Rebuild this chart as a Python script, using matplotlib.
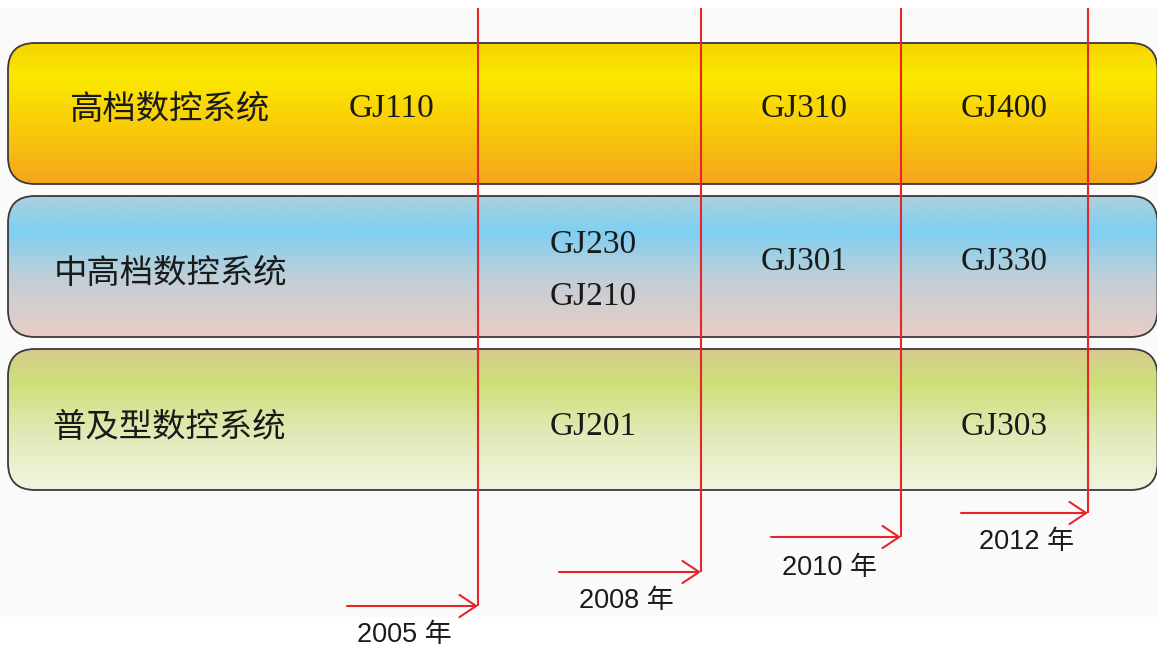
import matplotlib
matplotlib.use("Agg")
import matplotlib.pyplot as plt
import numpy as np
from matplotlib.patches import FancyBboxPatch, Rectangle
from matplotlib.colors import LinearSegmentedColormap

# ---------------- data ----------------
tiers = ['高档数控系统', '中高档数控系统', '普及型数控系统']
years = ['2005 年', '2008 年', '2010 年', '2012 年']
high_products = ['GJ110', '', 'GJ310', 'GJ400']
mid_products = ['', 'GJ230\nGJ210', 'GJ301', 'GJ330']
basic_products = ['', 'GJ201', '', 'GJ303']
products = [high_products, mid_products, basic_products]

# ---------------- layout (pixels) ----------------
W, H = 1157, 647
box_top = [43, 196, 349]
box_h = 141
box_left, box_right = 8, 1157.5
label_x = [69, 54, 52]
label_y = [109, 273, 427]
prod_y = [106, 259, 424]
col_x = [392, 593, 804, 1004]
line_x = [478, 701, 901, 1088]
arrow_y = [606, 572, 537, 513]
arrow_start = [347, 559, 771, 961]
year_xy = [(404, 635), (626, 601), (830, 568), (1027, 542)]

gradients = [
    [(0.0, '#f7d300'), (0.25, '#fbe900'), (0.55, '#f9cf08'), (1.0, '#f5a61c')],
    [(0.0, '#add0de'), (0.25, '#7ed0f1'), (0.6, '#c3cfd6'), (1.0, '#e9cdc4')],
    [(0.0, '#d7ca8c'), (0.25, '#cde07b'), (0.6, '#e1eab7'), (1.0, '#f1f5e2')],
]

red = '#e8262a'
txt = '#1a1a1a'

fig = plt.figure(figsize=(W / 100, H / 100), dpi=100)
ax = fig.add_axes([0, 0, 1, 1])
ax.set_xlim(0, W)
ax.set_ylim(H, 0)
ax.axis('off')

# light background panel
ax.add_patch(Rectangle((0, 8), W, 609, facecolor='#fafafa', edgecolor='none', zorder=0))

for i, tier in enumerate(tiers):
    y0 = box_top[i]
    patch = FancyBboxPatch((box_left, y0), box_right - box_left, box_h,
                           boxstyle='round,pad=0,rounding_size=27',
                           facecolor='none', edgecolor='#3a3a3a', lw=1.3, zorder=3)
    ax.add_patch(patch)
    cmap = LinearSegmentedColormap.from_list(f'g{i}', gradients[i])
    grad = np.linspace(0, 1, 256).reshape(-1, 1)
    im = ax.imshow(grad, cmap=cmap, aspect='auto',
                   extent=(box_left, box_right, y0 + box_h, y0),
                   origin='upper', zorder=1, interpolation='bilinear')
    im.set_clip_path(patch)
    ax.text(label_x[i], label_y[i], tier, fontsize=24, color=txt,
            family=['Noto Sans CJK SC', 'DejaVu Sans'],
            ha='left', va='center', zorder=6)
    for j, prod in enumerate(products[i]):
        if not prod:
            continue
        names = prod.split('\n')
        if len(names) == 1:
            ax.text(col_x[j], prod_y[i] + 11, names[0], fontsize=24, color=txt,
                    family='Liberation Serif', ha='center', va='baseline', zorder=6)
        else:
            for k, nm in enumerate(names):
                ax.text(col_x[j], 242 + 52 * k + 11, nm, fontsize=24, color=txt,
                        family='Liberation Serif', ha='center', va='baseline', zorder=6)

ax.set_xlim(0, W)
ax.set_ylim(H, 0)

for k, yr in enumerate(years):
    ax.plot([line_x[k], line_x[k]], [8, arrow_y[k]], color=red, lw=1.5, zorder=5,
            solid_capstyle='butt')
    ax.annotate('', xy=(line_x[k], arrow_y[k]), xytext=(arrow_start[k], arrow_y[k]),
                arrowprops=dict(arrowstyle='->,head_length=0.6,head_width=0.4',
                                color=red, lw=1.5, mutation_scale=20,
                                shrinkA=0, shrinkB=0), zorder=5)
    ax.text(year_xy[k][0], year_xy[k][1], yr, fontsize=19.5, color=txt,
            family=['Liberation Sans', 'Noto Sans CJK SC'],
            ha='center', va='center', zorder=6)

fig.savefig('out.png', dpi=100, facecolor='white')
